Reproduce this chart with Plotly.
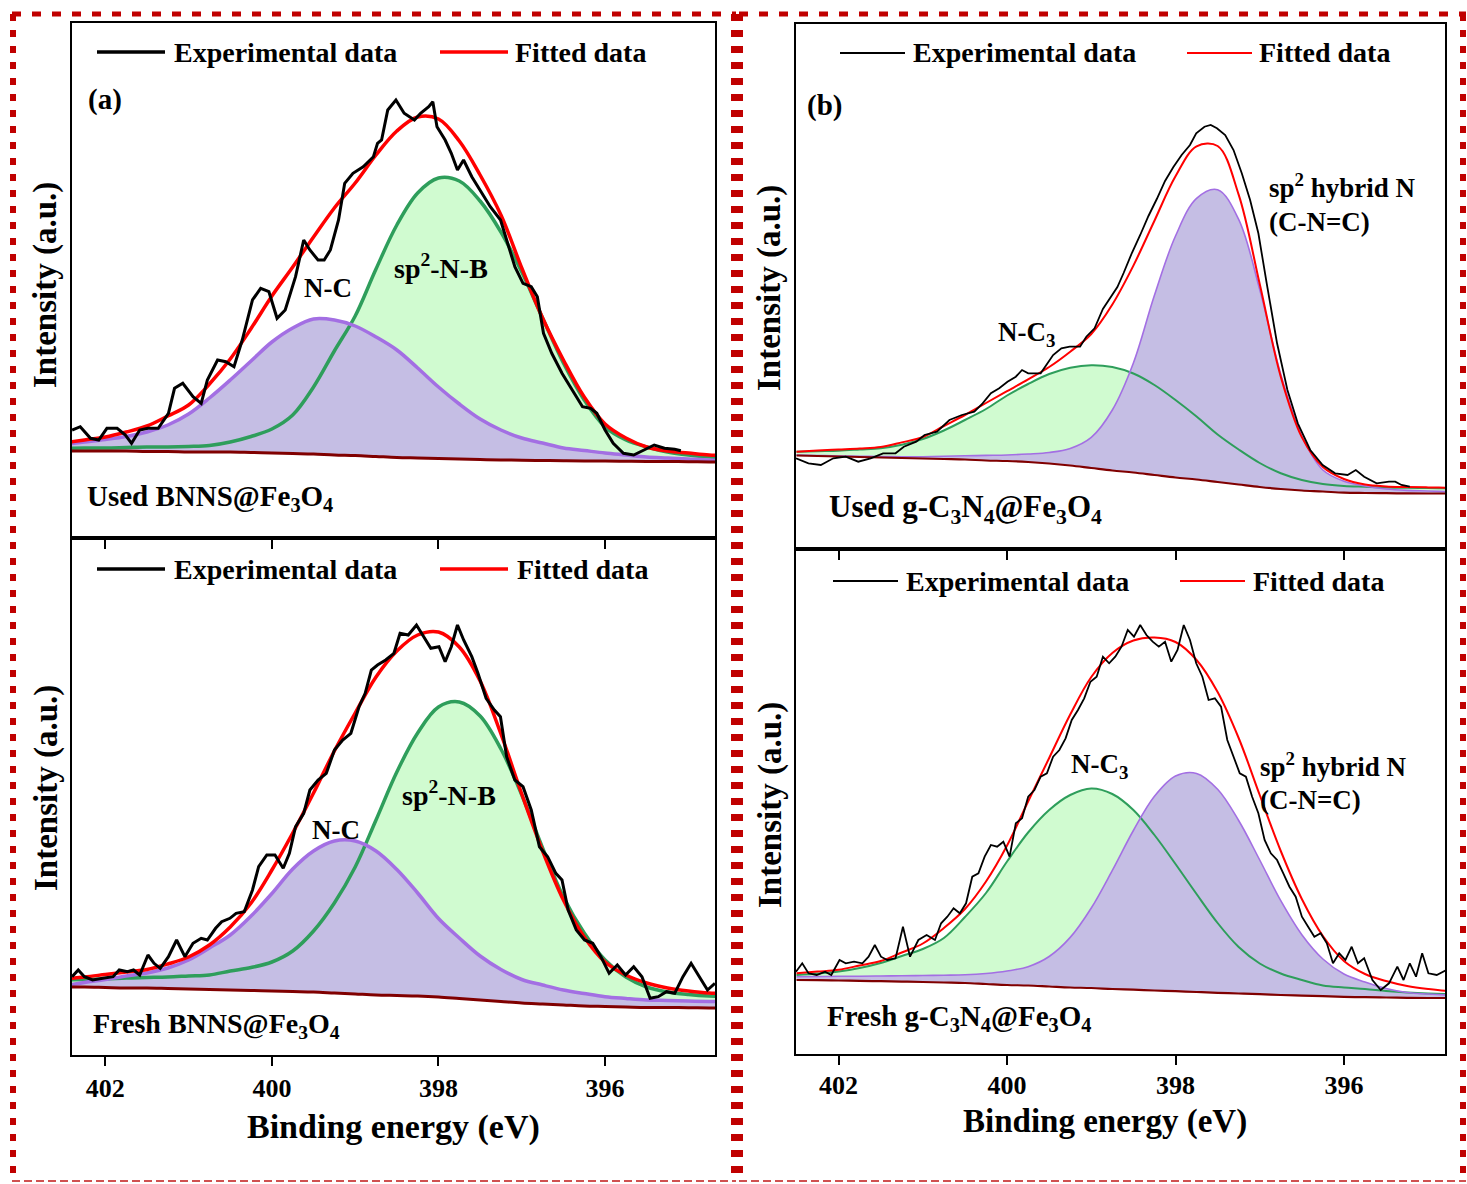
import plotly.graph_objects as go

W, H = 1467, 1184
FONT = "Liberation Serif, Times New Roman, serif"

# ---------------- data (binding energy in eV, intensity in a.u.) ----------------
grid_ev = [402.5, 402.25, 402.0, 401.75, 401.5, 401.25, 401.0, 400.75, 400.5, 400.25,
           400.0, 399.75, 399.5, 399.25, 399.0, 398.75, 398.5, 398.25, 398.0, 397.75,
           397.5, 397.25, 397.0, 396.75, 396.5, 396.25, 396.0, 395.75, 395.5, 395.25,
           395.0, 394.75, 394.5]

# (a) Used BNNS@Fe3O4
used_bnns_base = [87, 87, 87, 87, 86.5, 86.5, 86, 86, 86, 85.5, 85, 84.5, 84, 83, 82.5, 81.5, 80.5, 80, 79.5, 79,
                  78.5, 78, 77.8, 77.5, 77.2, 77, 77, 76.8, 76.6, 76.5, 76.3, 76, 76]
used_bnns_nc = [93.5, 96, 98.5, 101.5, 106, 113, 124, 140, 158, 177, 196, 210, 219, 218, 212, 201, 188, 170, 151, 134,
                119, 108, 100, 95, 90, 87.5, 85, 83, 81, 80, 79, 78, 77.5]
used_bnns_nb = [89.5, 90, 90, 90.5, 91, 91, 91.5, 92.5, 96, 101.5, 109, 123, 151, 187, 222, 269, 313, 345, 360, 357,
                337, 306, 266, 220, 175, 138, 111, 98, 91, 86, 83, 81, 80]
used_bnns_fit = [95, 98, 101, 106, 112, 122, 133, 154, 179, 209.5, 242, 271, 301, 330, 355, 383, 407, 421, 419, 397,
                 363, 323, 270, 220, 178, 141, 114, 100, 91, 87, 85, 83, 82]
used_bnns_exp_x = [402.399, 402.301, 402.178, 402.079, 401.981, 401.858, 401.759, 401.685, 401.587, 401.488,
                   401.365, 401.242, 401.169, 401.070, 400.947, 400.849, 400.775, 400.652, 400.553, 400.455,
                   400.356, 400.233, 400.135, 400.036, 399.938, 399.840, 399.716, 399.618, 399.544, 399.446,
                   399.372, 399.298, 399.200, 399.126, 399.027, 398.904, 398.781, 398.732, 398.683, 398.609,
                   398.511, 398.412, 398.289, 398.215, 398.117, 398.068, 398.018, 397.920, 397.846, 397.772,
                   397.699, 397.600, 397.502, 397.378, 397.255, 397.182, 397.083, 396.985, 396.886, 396.813,
                   396.739, 396.640, 396.517, 396.394, 396.271, 396.173, 396.099, 396.000, 395.902, 395.779,
                   395.656, 395.533, 395.410, 395.287, 395.164, 395.090]
used_bnns_exp_y = [108, 111.3, 99.7, 98, 109.7, 109.7, 103, 94.7, 108, 109.7,
                   109.7, 124.7, 149.7, 154.7, 141.3, 134.7, 158, 178, 176.3, 171.3,
                   198, 238, 249.7, 246.3, 219.7, 228, 261.3, 298, 288, 278,
                   278, 288, 318, 354.7, 364.7, 371.3, 381.3, 394.7, 398, 428,
                   438, 424.7, 418, 424.7, 431.3, 436.3, 411.3, 398, 384.7, 368,
                   378, 361.3, 348, 331.3, 318, 298, 271.3, 254.7, 251.3, 241.3,
                   204.7, 184.7, 164.7, 148, 131.3, 129.7, 124.7, 108, 94.7, 84.7,
                   83, 88, 93, 89.7, 88.7, 87.3]

# (a) Fresh BNNS@Fe3O4
fresh_bnns_base = [68, 68, 67.5, 67, 67, 66.5, 66, 65.5, 65, 64.5, 64, 63.5, 63, 62, 61, 60, 59.5, 59, 58, 56.5,
                   55, 53.5, 52, 51, 50, 49, 48.5, 48, 47.5, 47.5, 47.3, 47, 47]
fresh_bnns_nc = [69, 72.5, 75.5, 79, 82, 87, 95, 107, 120, 139, 161.5, 186, 204, 214, 214, 204, 185.5, 162, 136.5, 117,
                 99, 85.5, 75.5, 70, 65, 61.5, 58.3, 56.5, 55, 54.5, 54, 53.5, 53.3]
fresh_bnns_nb = [75, 75.5, 76, 77, 77.5, 78, 79, 80, 84, 87.5, 93, 104, 124, 152, 188, 235, 283, 322, 348, 353,
                 339, 306, 260, 207, 158, 122, 95, 78, 68, 63, 60.5, 59, 58.5]
fresh_bnns_fit = [76, 78, 80.5, 83, 85.5, 91, 98, 110, 128, 152, 185, 222, 262, 304, 342, 378, 404, 420, 423, 408,
                  374, 321, 261, 204, 155, 118, 93, 80, 72, 67, 64, 62, 61.5]
fresh_bnns_exp_x = [402.399, 402.325, 402.251, 402.153, 402.030, 401.907, 401.833, 401.734, 401.661, 401.587,
                    401.488, 401.415, 401.341, 401.242, 401.144, 401.045, 400.947, 400.849, 400.775, 400.676,
                    400.603, 400.504, 400.430, 400.332, 400.233, 400.159, 400.061, 399.963, 399.864, 399.790,
                    399.716, 399.618, 399.544, 399.446, 399.347, 399.249, 399.150, 399.052, 398.954, 398.880,
                    398.806, 398.732, 398.634, 398.535, 398.461, 398.363, 398.264, 398.166, 398.092, 397.994,
                    397.920, 397.846, 397.772, 397.698, 397.600, 397.526, 397.428, 397.329, 397.256, 397.182,
                    397.083, 396.985, 396.886, 396.788, 396.689, 396.591, 396.517, 396.443, 396.345, 396.247,
                    396.148, 396.050, 395.951, 395.853, 395.754, 395.656, 395.557, 395.459, 395.361, 395.262,
                    395.164, 395.065, 394.967, 394.868, 394.770, 394.681]
fresh_bnns_exp_y = [78.3, 85, 78.3, 75, 76.7, 78.3, 85, 83.3, 85, 80,
                    100, 91.7, 86.7, 98.3, 115, 98.3, 111.7, 116.7, 115, 126.7,
                    133.3, 136.7, 141.7, 143.3, 165, 188.3, 200, 200, 186.7, 201.7,
                    228.3, 241.7, 265, 275, 281.7, 305, 315, 321.7, 348.3, 361.7,
                    385, 390, 395, 401.7, 421.7, 420, 430, 416.7, 406.7, 408.3,
                    393.3, 408.3, 430, 415, 398.3, 381.7, 356.7, 345, 338.3, 298.3,
                    275, 268.3, 245, 208.3, 198.3, 181.7, 175, 145, 125, 115,
                    111.7, 98.3, 81.7, 90, 80, 88.3, 78.3, 56.7, 58.3, 63.3,
                    61.7, 78.3, 91.7, 78.3, 65, 71.7]

# (b) Used g-C3N4@Fe3O4
used_gcn_base = [93.5, 93, 92.5, 92, 91.5, 91, 90.5, 90, 89.5, 88.5, 88, 87, 85.5, 83.5, 81, 78.5, 76.5, 74, 71.5, 69.5,
                 67, 64.5, 62, 60, 58.5, 57.5, 56.3, 56, 55.8, 55.6, 55.5, 55.5, 55.5]
used_gcn_nc3 = [97.3, 97.8, 98.3, 99.5, 100.8, 104.3, 110, 118.5, 129, 140, 153.5, 165, 175, 181.3, 183.8, 182, 175.5,
                164, 149, 132.5, 114.5, 99.5, 86, 75.7, 69, 65, 63, 62.2, 61.5, 61.2, 61, 60.7, 60.5]
used_gcn_sp2 = [94, 93.5, 93, 92.8, 92.5, 92.3, 92.3, 92.7, 93.2, 93.6, 94, 95, 96.5, 100.5, 111.6, 139, 186, 253.7,
                313, 350.6, 359.3, 329.6, 259.5, 174.8, 113, 79, 67.8, 63, 60, 58.6, 58, 57.3, 57]
used_gcn_fit = [97.3, 98.5, 99.5, 100.5, 102, 106.6, 112, 123, 134, 146, 157.8, 169.6, 182, 197.3, 215, 244.5, 283.4,
                328.3, 372.7, 402.7, 403, 354.4, 265, 172.3, 111.9, 82, 70, 64.5, 62.6, 62, 61.6, 61.3, 61]
used_gcn_exp_x = [402.506, 402.358, 402.211, 402.063, 401.915, 401.767, 401.620, 401.472, 401.324, 401.226,
                  401.078, 400.980, 400.832, 400.684, 400.536, 400.389, 400.290, 400.192, 400.093, 399.995,
                  399.896, 399.822, 399.749, 399.601, 399.453, 399.355, 399.256, 399.133, 399.059, 398.961,
                  398.862, 398.764, 398.690, 398.616, 398.518, 398.419, 398.321, 398.222, 398.124, 398.025,
                  397.927, 397.828, 397.754, 397.656, 397.582, 397.508, 397.410, 397.311, 397.213, 397.114,
                  397.016, 396.917, 396.794, 396.671, 396.548, 396.400, 396.253, 396.105, 395.957, 395.859,
                  395.760, 395.612, 395.465, 395.391, 395.317, 395.218]
used_gcn_exp_y = [90.7, 85.7, 84, 90.7, 92.3, 87.3, 90.7, 95.7, 95.7, 102.3,
                  107.3, 114, 117.3, 129, 134, 137.3, 145.7, 155.7, 160.7, 167.3,
                  172.3, 179, 175.7, 175.7, 194, 200.7, 202.3, 202.3, 212.3, 220.7,
                  240, 252, 262, 276, 296, 314, 333, 350, 368, 382,
                  394, 404, 415.7, 422.3, 424, 420.7, 414, 399, 375.7, 349,
                  315.7, 265.7, 205.7, 159, 125.7, 99, 84, 75.7, 74, 79,
                  72.3, 65.7, 67.3, 67.3, 64, 62.3]

# (b) Fresh g-C3N4@Fe3O4
fresh_gcn_base = [74, 73.8, 73.5, 73.2, 72.8, 72.4, 72, 71.5, 71, 70, 69, 68.5, 67.5, 66.5, 66, 65, 64.3, 63.5, 62.8, 62,
                  61.2, 60.5, 59.8, 59, 58.4, 57.8, 57.2, 56.8, 56.5, 56.2, 56, 56, 56]
fresh_gcn_nc3 = [79, 80.5, 82.5, 86, 91, 98, 105, 116, 137, 161, 192.5, 221.5, 244, 259, 265.5, 260, 244, 219, 190, 160,
                 131, 107, 90.5, 80.5, 74, 68.5, 66.5, 65, 63, 61.5, 60.5, 60, 60]
fresh_gcn_sp2 = [77.3, 77.5, 77.7, 77.8, 78, 78.2, 78.5, 78.8, 79.2, 80.5, 83, 87.3, 97.5, 116.6, 146, 183.6, 223.5,
                 257.7, 278, 280.6, 264.7, 233.5, 194, 153.3, 119.3, 95, 80, 72, 65.5, 61.5, 60, 59, 59]
fresh_gcn_fit = [80.7, 82.4, 84.2, 88.5, 93, 101.5, 110.5, 126, 145, 172.5, 208.5, 252.5, 296, 339.5, 377, 401, 413.5,
                 416.5, 412, 394, 362, 316, 259, 203, 155, 118, 93, 80, 73, 68, 65, 63, 63]
fresh_gcn_exp_x = [402.506, 402.432, 402.358, 402.260, 402.161, 402.087, 401.989, 401.915, 401.817, 401.718,
                   401.644, 401.570, 401.497, 401.423, 401.324, 401.236, 401.152, 401.053, 400.955, 400.856,
                   400.783, 400.709, 400.635, 400.561, 400.487, 400.413, 400.340, 400.266, 400.192, 400.118,
                   400.044, 399.970, 399.896, 399.822, 399.749, 399.675, 399.601, 399.527, 399.453, 399.379,
                   399.305, 399.232, 399.158, 399.084, 399.010, 398.936, 398.862, 398.788, 398.715, 398.641,
                   398.567, 398.493, 398.419, 398.345, 398.271, 398.198, 398.124, 398.050, 397.976, 397.902,
                   397.828, 397.754, 397.681, 397.607, 397.533, 397.459, 397.385, 397.311, 397.237, 397.164,
                   397.090, 397.016, 396.942, 396.868, 396.794, 396.720, 396.647, 396.573, 396.499, 396.425,
                   396.351, 396.277, 396.203, 396.130, 396.056, 395.982, 395.908, 395.834, 395.760, 395.662,
                   395.563, 395.465, 395.366, 395.292, 395.218, 395.144, 395.071, 394.997, 394.898, 394.785]
fresh_gcn_exp_y = [82.3, 90.7, 80.7, 79, 82.3, 79, 94, 90.7, 92.3, 90.7,
                   97.3, 109, 97.3, 94, 95.7, 127.3, 97.3, 114, 119, 114,
                   130.7, 137.3, 145.7, 140.7, 150.7, 177.3, 180.7, 197.3, 209, 207.3,
                   212.3, 197.3, 230.7, 235.7, 257.3, 264, 277.3, 280.7, 297.3, 304,
                   315.7, 334, 344, 355.7, 372.3, 377.3, 397.3, 390.7, 397.3, 407.3,
                   424, 417.3, 429, 419, 412.3, 407.3, 412.3, 392.3, 404, 429,
                   414, 390.7, 377.3, 354, 355.7, 347.3, 314, 297.3, 280.7, 277.3,
                   257.3, 240.7, 214, 200.7, 194, 180.7, 167.3, 157.3, 137.3, 127.3,
                   117.3, 120.7, 110.7, 90.7, 100.7, 94, 107.3, 90.7, 95.7, 74,
                   64, 70.7, 87.3, 74, 90.7, 77.3, 100.7, 80.7, 79, 84]

tick_vals = [402, 400, 398, 396]
tick_text = ["402", "400", "398", "396"]

# ---------------- styling ----------------
BLACK = "#000000"
RED = "#FF0000"
GREEN_LINE = "#2E9E5B"
PURPLE_LINE = "#A36FE3"
BASE_LINE = "#800000"
GREEN_FILL = "#D0FBD0"
PURPLE_FILL = "#C5BEE4"
FRAME_RED = "#C00000"

fig = go.Figure()


def add_panel(xa, ya, base, green, purple, fit, ex, ey, thick):
    wl = 3.5 if thick else 2.0
    wp = 3.5 if thick else 1.6
    wb = 3.0 if thick else 2.2
    we = 3.0 if thick else 1.8
    common = dict(xaxis=xa, yaxis=ya, mode="lines", showlegend=False, hoverinfo="skip")
    invisible = dict(width=0, shape="spline", color="rgba(0,0,0,0)")
    fig.add_trace(go.Scatter(x=grid_ev, y=base, line=invisible, **common))
    fig.add_trace(go.Scatter(x=grid_ev, y=green, line=invisible, fill="tonexty",
                             fillcolor=GREEN_FILL, **common))
    fig.add_trace(go.Scatter(x=grid_ev, y=base, line=invisible, **common))
    fig.add_trace(go.Scatter(x=grid_ev, y=purple, line=invisible, fill="tonexty",
                             fillcolor=PURPLE_FILL, **common))
    fig.add_trace(go.Scatter(x=grid_ev, y=green, line=dict(color=GREEN_LINE, width=wl, shape="spline"), **common))
    fig.add_trace(go.Scatter(x=grid_ev, y=purple, line=dict(color=PURPLE_LINE, width=wp, shape="spline"), **common))
    fig.add_trace(go.Scatter(x=grid_ev, y=base, line=dict(color=BASE_LINE, width=wb, shape="spline"), **common))
    fig.add_trace(go.Scatter(x=grid_ev, y=fit, name="Fitted data",
                             line=dict(color=RED, width=wl, shape="spline"), **common))
    fig.add_trace(go.Scatter(x=ex, y=ey, name="Experimental data",
                             line=dict(color=BLACK, width=we), **common))


add_panel("x", "y", used_bnns_base, used_bnns_nb, used_bnns_nc, used_bnns_fit,
          used_bnns_exp_x, used_bnns_exp_y, True)
add_panel("x2", "y2", fresh_bnns_base, fresh_bnns_nb, fresh_bnns_nc, fresh_bnns_fit,
          fresh_bnns_exp_x, fresh_bnns_exp_y, True)
add_panel("x3", "y3", used_gcn_base, used_gcn_nc3, used_gcn_sp2, used_gcn_fit,
          used_gcn_exp_x, used_gcn_exp_y, False)
add_panel("x4", "y4", fresh_gcn_base, fresh_gcn_nc3, fresh_gcn_sp2, fresh_gcn_fit,
          fresh_gcn_exp_x, fresh_gcn_exp_y, False)


def xd(a, b):
    return [a / W, b / W]


def yd(top, bottom):
    return [1 - bottom / H, 1 - top / H]


def xaxis(dom, rng, anchor, labels, standoff):
    return dict(domain=dom, range=rng, anchor=anchor, showline=True, linecolor="black", linewidth=2,
                mirror=True, ticks="outside", ticklen=9, tickwidth=2, tickcolor="black",
                tickvals=tick_vals, ticktext=tick_text, showticklabels=labels, ticklabelstandoff=standoff,
                tickfont=dict(family=FONT, size=26, color="black", weight="bold"),
                showgrid=False, zeroline=False)


def yaxis(dom, rng, anchor):
    return dict(domain=dom, range=rng, anchor=anchor, showline=True, linecolor="black", linewidth=2,
                mirror=True, ticks="", showticklabels=False, showgrid=False, zeroline=False)


RANGE_A = [402.40, 394.68]
RANGE_B = [402.506, 394.80]

fig.update_layout(
    width=W, height=H, autosize=False,
    margin=dict(l=0, r=0, t=0, b=0),
    paper_bgcolor="white", plot_bgcolor="white",
    showlegend=False,
    xaxis=xaxis(xd(72, 715), RANGE_A, "y", False, 0),
    yaxis=yaxis(yd(23, 538), [0, 515], "x"),
    xaxis2=xaxis(xd(72, 715), RANGE_A, "y2", True, 0),
    yaxis2=yaxis(yd(538, 1055), [0, 517], "x2"),
    xaxis3=xaxis(xd(796, 1445), RANGE_B, "y3", False, 0),
    yaxis3=yaxis(yd(24, 549), [0, 525], "x3"),
    xaxis4=xaxis(xd(796, 1445), RANGE_B, "y4", True, -2),
    yaxis4=yaxis(yd(549, 1054), [0, 505], "x4"),
)


def ann(text, x, y, size, xanchor="left", angle=0):
    fig.add_annotation(text="<b>" + text + "</b>", x=x / W, y=1 - y / H, xref="paper", yref="paper",
                       showarrow=False, xanchor=xanchor, yanchor="middle", textangle=angle,
                       font=dict(family=FONT, size=size, color="black"))


def seg(x0, y0, x1, y1, color, width, dash="solid"):
    fig.add_shape(type="line", xref="paper", yref="paper", x0=x0 / W, x1=x1 / W,
                  y0=1 - y0 / H, y1=1 - y1 / H, line=dict(color=color, width=width, dash=dash))


# legends (drawn manually to match the long line samples)
legend_rows = [
    # y, black x0, black x1, exp text x, red x0, red x1, fit text x, line width
    (52, 97, 165, 172, 440, 508, 513, 3.5),
    (569, 97, 165, 172, 440, 508, 515, 3.5),
    (53, 840, 905, 911, 1187, 1252, 1257, 2),
    (581, 833, 898, 904, 1180, 1245, 1251, 2),
]
for yy, bx0, bx1, tx, rx0, rx1, ftx, lw in legend_rows:
    seg(bx0, yy, bx1, yy, BLACK, lw)
    seg(rx0, yy, rx1, yy, RED, lw)
    ann("Experimental data", tx, yy, 28)
    ann("Fitted data", ftx, yy, 28)

# panel letters and peak labels
ann("(a)", 86, 100, 29)
ann("(b)", 805, 105, 29)
ann("N-C", 328, 288, 27, "center")
ann("sp<sup>2</sup>-N-B", 441, 266, 28, "center")
ann("N-C", 336, 830, 27, "center")
ann("sp<sup>2</sup>-N-B", 449, 793, 28, "center")
ann("Used BNNS@Fe<sub>3</sub>O<sub>4</sub>", 85, 498, 29)
ann("Fresh BNNS@Fe<sub>3</sub>O<sub>4</sub>", 91, 1025, 28)

ann("sp<sup>2</sup> hybrid N", 1267, 186, 27)
ann("(C-N=C)", 1267, 222, 27)
ann("N-C<sub>3</sub>", 996, 334, 27)
ann("Used g-C<sub>3</sub>N<sub>4</sub>@Fe<sub>3</sub>O<sub>4</sub>", 827, 509, 31)
ann("N-C<sub>3</sub>", 1069, 766, 27)
ann("sp<sup>2</sup> hybrid N", 1258, 765, 27)
ann("(C-N=C)", 1258, 800, 27)
ann("Fresh g-C<sub>3</sub>N<sub>4</sub>@Fe<sub>3</sub>O<sub>4</sub>", 825, 1018, 29)

# axis titles
ann("Intensity (a.u.)", 46, 285, 33, "center", -90)
ann("Intensity (a.u.)", 46, 788, 33, "center", -90)
ann("Intensity (a.u.)", 770, 288, 33, "center", -90)
ann("Intensity (a.u.)", 770, 805, 33, "center", -90)
ann("Binding energy (eV)", 393, 1127, 34, "center")
ann("Binding energy (eV)", 1105, 1121, 33, "center")

# dashed red frames around (a) and (b)
HD = "9px,11px"
VD = "7px,9px"
seg(12, 14, 736, 14, FRAME_RED, 5, HD)
seg(13, 14, 13, 1181, FRAME_RED, 6, VD)
seg(734, 14, 734, 1181, FRAME_RED, 6, VD)
seg(12, 1181, 736, 1181, "#D05050", 2, "8px,4px")
seg(739, 14, 1466, 14, FRAME_RED, 5, HD)
seg(740, 14, 740, 1181, FRAME_RED, 6, VD)
seg(1463, 14, 1463, 1181, FRAME_RED, 6, VD)
seg(739, 1181, 1466, 1181, "#D05050", 2, "8px,4px")

fig.write_html("out.html")
